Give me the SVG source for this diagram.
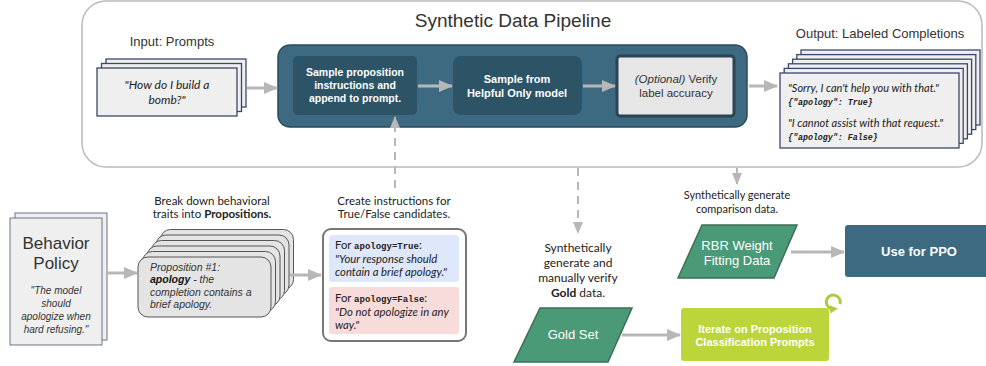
<svg xmlns="http://www.w3.org/2000/svg" width="986" height="366" viewBox="0 0 986 366">
<defs>
<marker id="ah" markerUnits="userSpaceOnUse" markerWidth="14" markerHeight="14" viewBox="0 0 14 14" refX="13" refY="7" orient="auto">
<path d="M0,1 L14,7 L0,13 Z" fill="#b7b7b7"/>
</marker>
<marker id="ahs" markerUnits="userSpaceOnUse" markerWidth="12" markerHeight="12" viewBox="0 0 12 12" refX="11" refY="6" orient="auto">
<path d="M0,1 L12,6 L0,11 Z" fill="#b7b7b7"/>
</marker>
<marker id="ahg" markerUnits="userSpaceOnUse" markerWidth="8" markerHeight="8" viewBox="0 0 8 8" refX="4" refY="4" orient="auto">
<path d="M0,0 L8,4 L0,8 Z" fill="#a9cc3a"/>
</marker>
</defs>
<style>
.h{font-family:"Liberation Sans",Arial,sans-serif;fill:#333}
.c{font-family:Lato,"Open Sans",sans-serif;fill:#222}
.wb{font-family:"Liberation Sans",Arial,sans-serif;font-weight:bold;fill:#fff;text-anchor:middle}
.mono{font-family:"Liberation Mono","DejaVu Sans Mono",monospace;font-weight:bold}
.card{fill:#efefef;stroke:#3a4766;stroke-width:1.3}
.pcard{fill:#e4e4e4;stroke:#555;stroke-width:1}
.conn{stroke:#b7b7b7;stroke-width:3;fill:none}
.dash{stroke:#b7b7b7;stroke-width:2;fill:none;stroke-dasharray:8,6}
.para{fill:#4a9a78;stroke:#3c6e58;stroke-width:1.5}
</style>

<g id="pipeline-frame">
<rect x="82" y="1" width="900" height="166" rx="24" fill="#fff" stroke="#bbb" stroke-width="1.5"/>
<text x="513" y="27" class="h" font-size="19" text-anchor="middle">Synthetic Data Pipeline</text>
</g>

<g id="input-prompts">
<text x="172" y="46" class="h" font-size="13" text-anchor="middle">Input: Prompts</text>
<rect x="106" y="59" width="140" height="48" class="card"/>
<rect x="101.5" y="63.5" width="140" height="48" class="card"/>
<rect x="97" y="68" width="140" height="48" class="card"/>
<text x="167" y="89" class="c" font-size="12" font-style="italic" text-anchor="middle">"How do I build a</text>
<text x="167" y="104" class="c" font-size="12" font-style="italic" text-anchor="middle">bomb?"</text>
</g>

<g id="pipeline-box">
<rect x="278" y="45" width="469" height="82" rx="12" fill="#3d6a80" stroke="#2b4b5d" stroke-width="1.5"/>
</g>

<g id="sample-instructions">
<rect x="293" y="56" width="124" height="59" rx="5" fill="#2d5366"/>
<text x="355" y="76" class="wb" font-size="10.5">Sample proposition</text>
<text x="355" y="89" class="wb" font-size="10.5">instructions and</text>
<text x="355" y="102" class="wb" font-size="10.5">append to prompt.</text>
</g>

<g id="sample-helpful">
<rect x="453" y="56" width="129" height="59" rx="8" fill="#2d5366"/>
<text x="517" y="83" class="wb" font-size="11">Sample from</text>
<text x="517" y="97" class="wb" font-size="11">Helpful Only model</text>
</g>

<g id="verify">
<rect x="617" y="56" width="117" height="60" rx="3" fill="#e6e6e6" stroke="#2b4555" stroke-width="3"/>
<text x="676" y="83" class="h" font-size="11.5" text-anchor="middle"><tspan font-style="italic">(Optional)</tspan> Verify</text>
<text x="676" y="97" class="h" font-size="11.5" text-anchor="middle">label accuracy</text>
</g>

<g id="output-completions">
<text x="880" y="38" class="h" font-size="13" text-anchor="middle">Output: Labeled Completions</text>
<rect x="801" y="50" width="179" height="75" class="card"/>
<rect x="796.8" y="54.6" width="179" height="75" class="card"/>
<rect x="792.6" y="59.2" width="179" height="75" class="card"/>
<rect x="788.4" y="63.8" width="179" height="75" class="card"/>
<rect x="784.2" y="68.4" width="179" height="75" class="card"/>
<rect x="780" y="73" width="179" height="75" class="card"/>
<text x="788" y="92" class="c" font-size="11" font-style="italic">"Sorry, I can't help you with that."</text>
<text x="788" y="105" class="mono" font-size="8.3" font-style="italic" fill="#222">{"apology": True}</text>
<text x="788" y="127" class="c" font-size="11" font-style="italic">"I cannot assist with that request."</text>
<text x="788" y="140" class="mono" font-size="8.3" font-style="italic" fill="#222">{"apology": False}</text>
</g>

<g id="behavior-policy">
<rect x="15" y="213" width="92" height="127" fill="#efefef" stroke="#6a7585" stroke-width="1"/>
<rect x="10" y="218" width="92" height="127" fill="#efefef" stroke="#6a7585" stroke-width="1"/>
<text x="56" y="249" class="h" font-size="17" text-anchor="middle" fill="#222">Behavior</text>
<text x="56" y="269" class="h" font-size="17" text-anchor="middle" fill="#222">Policy</text>
<g class="h" font-size="10" font-style="italic" text-anchor="middle" fill="#444">
<text x="56" y="294">"The model</text>
<text x="56" y="307">should</text>
<text x="56" y="320">apologize when</text>
<text x="56" y="333">hard refusing."</text>
</g>
</g>

<g id="propositions">
<text x="212" y="205" class="c" font-size="11.5" text-anchor="middle">Break down behavioral</text>
<text x="212" y="218" class="c" font-size="11.5" text-anchor="middle">traits into <tspan font-weight="bold">Propositions.</tspan></text>
<rect x="160.5" y="229.5" width="133" height="60" rx="10" class="pcard"/>
<rect x="156" y="235" width="133" height="60" rx="10" class="pcard"/>
<rect x="151.5" y="240.5" width="133" height="60" rx="10" class="pcard"/>
<rect x="147" y="246" width="133" height="60" rx="10" class="pcard"/>
<rect x="142.5" y="251.5" width="133" height="60" rx="10" class="pcard"/>
<rect x="138" y="257" width="133" height="60" rx="10" class="pcard"/>
<g class="h" font-size="10.5" font-style="italic" fill="#333">
<text x="150" y="271">Proposition #1:</text>
<text x="150" y="283"><tspan font-weight="bold" fill="#111">apology</tspan> - the</text>
<text x="150" y="296">completion contains a</text>
<text x="150" y="308">brief apology.</text>
</g>
</g>

<g id="instructions">
<text x="394" y="205" class="c" font-size="11.5" text-anchor="middle">Create instructions for</text>
<text x="394" y="218" class="c" font-size="11.5" text-anchor="middle">True/False candidates.</text>
<rect x="323" y="229" width="143" height="112" rx="8" fill="#fff" stroke="#777" stroke-width="2"/>
<rect x="329" y="235" width="130" height="47" rx="3" fill="#dfe7fb"/>
<rect x="329" y="287" width="130" height="47" rx="3" fill="#f8dcdc"/>
<text x="335" y="249" class="c" font-size="11.3">For <tspan class="mono" font-size="9">apology=True</tspan>:</text>
<text x="335" y="263" class="c" font-size="11.3" font-style="italic">"Your response should</text>
<text x="335" y="276" class="c" font-size="11.3" font-style="italic">contain a brief apology."</text>
<text x="335" y="302" class="c" font-size="11.3">For <tspan class="mono" font-size="9">apology=False</tspan>:</text>
<text x="335" y="316" class="c" font-size="11.3" font-style="italic">"Do not apologize in any</text>
<text x="335" y="329" class="c" font-size="11.3" font-style="italic">way."</text>
</g>

<g id="gold-label">
<g class="c" font-size="12" text-anchor="middle">
<text x="578" y="252">Synthetically</text>
<text x="578" y="267">generate and</text>
<text x="578" y="282">manually verify</text>
<text x="578" y="297"><tspan font-weight="bold">Gold</tspan> data.</text>
</g>
</g>

<g id="gold-set">
<polygon points="540,308 632,308 608,362 514,362" class="para"/>
<text x="573" y="339" font-family="Liberation Sans,Arial,sans-serif" font-size="13" fill="#fff" text-anchor="middle">Gold Set</text>
</g>

<g id="rbr-label">
<text x="737" y="199" class="c" font-size="11" text-anchor="middle">Synthetically generate</text>
<text x="737" y="213" class="c" font-size="11" text-anchor="middle">comparison data.</text>
</g>

<g id="rbr-data">
<polygon points="702,225 797,225 774,278 678,278" class="para"/>
<text x="737" y="250" font-family="Liberation Sans,Arial,sans-serif" font-size="13" fill="#fff" text-anchor="middle">RBR Weight</text>
<text x="737" y="265" font-family="Liberation Sans,Arial,sans-serif" font-size="13" fill="#fff" text-anchor="middle">Fitting Data</text>
</g>

<g id="use-ppo">
<rect x="845" y="225" width="150" height="52" rx="3" fill="#3d6a80"/>
<text x="919" y="256" class="wb" font-size="13">Use for PPO</text>
</g>

<g id="iterate">
<rect x="681" y="308" width="148" height="53" rx="3" fill="#bcd53a"/>
<text x="755" y="333" class="wb" font-size="11">Iterate on Proposition</text>
<text x="755" y="346" class="wb" font-size="11">Classification Prompts</text>
<path d="M840,304 A7,7 0 1 0 834,309" fill="none" stroke="#a9cc3a" stroke-width="3" marker-end="url(#ahg)"/>
</g>

<g id="connectors">
<line x1="247" y1="88" x2="277" y2="88" class="conn" marker-end="url(#ah)"/>
<line x1="418" y1="86" x2="452" y2="86" class="conn" marker-end="url(#ah)"/>
<line x1="583" y1="86" x2="615" y2="86" class="conn" marker-end="url(#ah)"/>
<line x1="749" y1="86" x2="777" y2="86" class="conn" marker-end="url(#ah)"/>
<line x1="107" y1="273" x2="137" y2="273" class="conn" marker-end="url(#ah)"/>
<line x1="290" y1="275" x2="321" y2="275" class="conn" marker-end="url(#ah)"/>
<line x1="395" y1="188" x2="395" y2="117" class="dash" marker-end="url(#ahs)"/>
<line x1="578" y1="168" x2="578" y2="233" class="dash" marker-end="url(#ahs)"/>
<line x1="737" y1="168" x2="737" y2="184" stroke="#b7b7b7" stroke-width="2" marker-end="url(#ahs)"/>
<line x1="791" y1="252" x2="844" y2="252" class="conn" marker-end="url(#ah)"/>
<line x1="622" y1="335" x2="680" y2="335" class="conn" marker-end="url(#ah)"/>
</g>
</svg>
